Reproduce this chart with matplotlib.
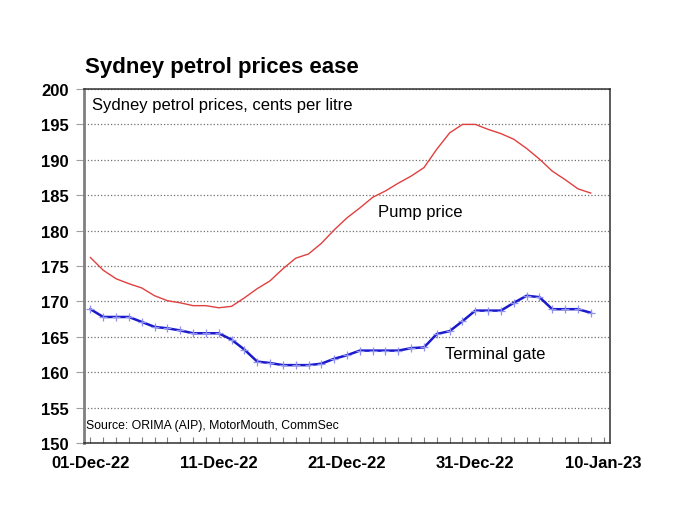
import pandas as pd
import matplotlib
matplotlib.use('Agg')
import matplotlib.pyplot as plt
import matplotlib.dates as mdates

plt.rcParams['font.family'] = ['Liberation Sans', 'DejaVu Sans']

# daily data, 01-Dec-22 to 09-Jan-23
dates = pd.date_range('2022-12-01', '2023-01-09', freq='D')

pump_price = [176.2, 174.4, 173.2, 172.5, 171.9, 170.8, 170.1, 169.8, 169.4, 169.4,
              169.1, 169.3, 170.5, 171.8, 172.9, 174.6, 176.1, 176.7, 178.2, 180.1,
              181.8, 183.2, 184.7, 185.6, 186.7, 187.7, 188.9, 191.5, 193.8, 195.0,
              195.0, 194.3, 193.7, 192.9, 191.6, 190.1, 188.4, 187.2, 185.9, 185.3]

terminal_gate = [168.9, 167.8, 167.8, 167.8, 167.1, 166.4, 166.2, 165.9, 165.5, 165.5,
                 165.5, 164.6, 163.2, 161.5, 161.3, 161.0, 161.0, 161.0, 161.2, 161.9,
                 162.4, 163.05, 163.05, 163.05, 163.05, 163.4, 163.5, 165.4, 165.8, 167.2,
                 168.7, 168.7, 168.7, 169.8, 170.8, 170.6, 168.9, 168.9, 168.9, 168.4]

tick_dates = pd.to_datetime(['2022-12-01', '2022-12-11', '2022-12-21', '2022-12-31', '2023-01-10'])

fig = plt.figure(figsize=(6.8, 5.1), dpi=100)
ax = fig.add_axes([84 / 680, 1 - 444 / 510, 526 / 680, 354 / 510])

ax.plot(dates, pump_price, color='#e0403f', lw=1.0)
ax.plot(dates, terminal_gate, color='#1a1acc', lw=1.8,
        marker='+', ms=5.5, mec='#9090f0', mew=0.9)

ax.set_ylim(150, 200)
ax.set_yticks(range(150, 201, 5))
ax.set_xlim(pd.Timestamp('2022-11-30 12:00'), pd.Timestamp('2023-01-10 12:00'))
ax.set_xticks(tick_dates)
ax.xaxis.set_major_formatter(mdates.DateFormatter('%d-%b-%y'))
ax.xaxis.set_minor_locator(mdates.DayLocator())

ax.grid(axis='y', linestyle=':', color='#707070', lw=0.9)
ax.set_axisbelow(True)

ax.tick_params(axis='y', direction='out', length=6, color='#a0a0a0', width=0.8, pad=5)
ax.tick_params(axis='x', which='both', direction='in', length=4, color='#808080', width=0.8, pad=9)
for lbl in ax.get_xticklabels() + ax.get_yticklabels():
    lbl.set_fontsize(12)
    lbl.set_fontweight('bold')

ax.spines['left'].set_color('#808080')
ax.spines['left'].set_linewidth(2)
for s in ['top', 'right', 'bottom']:
    ax.spines[s].set_color('#303030')
    ax.spines[s].set_linewidth(1.1)

fig.text(85 / 680, 1 - 67 / 510, 'Sydney petrol prices ease', fontsize=16,
         fontweight='bold', va='center', ha='left')
ax.text(0.015, 0.957, 'Sydney petrol prices, cents per litre', fontsize=12,
        transform=ax.transAxes, va='center')
ax.text(0.004, 0.052, 'Source: ORIMA (AIP), MotorMouth, CommSec', fontsize=8.8,
        transform=ax.transAxes, va='center')
ax.text(0.559, 0.655, 'Pump price', fontsize=12, transform=ax.transAxes, va='center')
ax.text(0.686, 0.254, 'Terminal gate', fontsize=12, transform=ax.transAxes, va='center')

fig.savefig('out.png', dpi=100)
